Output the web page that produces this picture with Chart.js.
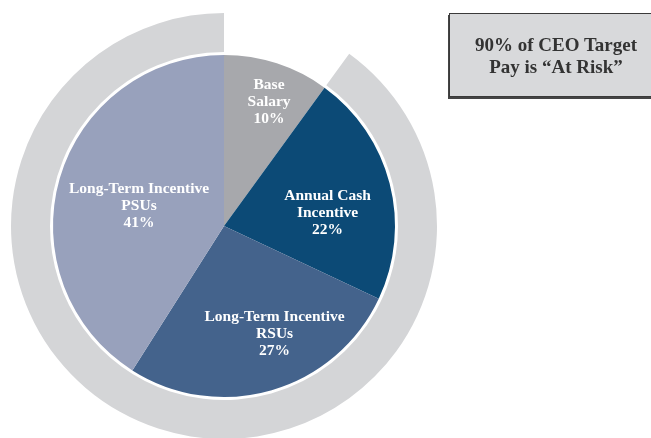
<!DOCTYPE html>
<html>
<head>
<meta charset="utf-8">
<script src="https://cdn.jsdelivr.net/npm/chart.js@4/dist/chart.umd.min.js"></script>
<style>
  html, body { margin: 0; padding: 0; background: #fff; overflow: hidden; }
  #wrap { position: relative; width: 651px; height: 438px; overflow: hidden; }
  #payChart { position: absolute; left: 0; top: 0; }
  #riskBox {
    position: absolute; left: 449px; top: 13px; width: 210px; height: 82px;
    background: #d8d9db; border: 1px solid #3a3a3a;
    box-shadow: -1px 2px 0 #444;
    font-family: "Liberation Serif", "Times New Roman", serif; font-weight: bold;
    font-size: 19px; line-height: 22px; color: #333;
  }
  #riskBox div { position: absolute; left: 0; width: 212px; top: 20px; text-align: center; }
</style>
</head>
<body>
<div id="wrap">
  <canvas id="payChart" width="651" height="445"></canvas>
  <div id="riskBox"><div>90% of CEO Target<br>Pay is “At Risk”</div></div>
</div>
<script>
// CEO target pay mix (percent), clockwise from 12 o'clock
const categories = [['Base', 'Salary'], ['Annual Cash', 'Incentive'], ['Long-Term Incentive', 'RSUs'], ['Long-Term Incentive', 'PSUs']];
const payShare = [10, 22, 27, 41];
const atRisk = [10, 90]; // fixed pay vs at-risk pay, drawn as the outer ring

const sliceColors = ['#a7a8ac', '#0c4a76', '#44638c', '#98a1bc'];
// where each label sits: angle from 12 o'clock (deg) and share of the pie radius
const labelSpots = [[20, 0.77], [83, 0.61], [155, 0.70], [283, 0.51]];

const sliceLabels = {
    id: 'sliceLabels',
    afterDatasetsDraw(chart) {
        const meta = chart.getDatasetMeta(2);
        const ctx = chart.ctx;
        ctx.save();
        ctx.fillStyle = '#ffffff';
        ctx.font = 'bold 15.5px "Liberation Serif", "Times New Roman", serif';
        ctx.textAlign = 'center';
        ctx.textBaseline = 'middle';
        meta.data.forEach((arc, i) => {
            const p = arc.getProps(['x', 'y', 'outerRadius'], true);
            const a = labelSpots[i][0] * Math.PI / 180;
            const r = p.outerRadius * labelSpots[i][1];
            const cx = p.x + r * Math.sin(a);
            const cy = p.y - r * Math.cos(a);
            const lines = categories[i].concat([payShare[i] + '%']);
            const lh = 17;
            lines.forEach((t, k) => {
                ctx.fillText(t, cx, cy + (k - (lines.length - 1) / 2) * lh);
            });
        });
        ctx.restore();
    }
};

new Chart(document.getElementById('payChart').getContext('2d'), {
    type: 'doughnut',
    data: {
        labels: categories.map(c => c.join(' ')),
        datasets: [
            {
                data: atRisk,
                backgroundColor: ['rgba(0,0,0,0)', '#d4d5d7'],
                borderWidth: 0,
                weight: 39
            },
            {
                data: [100],
                backgroundColor: ['rgba(0,0,0,0)'],
                borderWidth: 0,
                weight: 3
            },
            {
                data: payShare,
                backgroundColor: sliceColors,
                borderWidth: 0,
                weight: 171
            }
        ]
    },
    options: {
        responsive: false,
        animation: false,
        cutout: 0,
        rotation: 0,
        layout: { padding: { left: 11, right: 214, top: 13, bottom: 6 } },
        plugins: {
            legend: { display: false },
            tooltip: { enabled: false }
        },
        hoverOffset: 0
    },
    plugins: [sliceLabels]
});
</script>
</body>
</html>
